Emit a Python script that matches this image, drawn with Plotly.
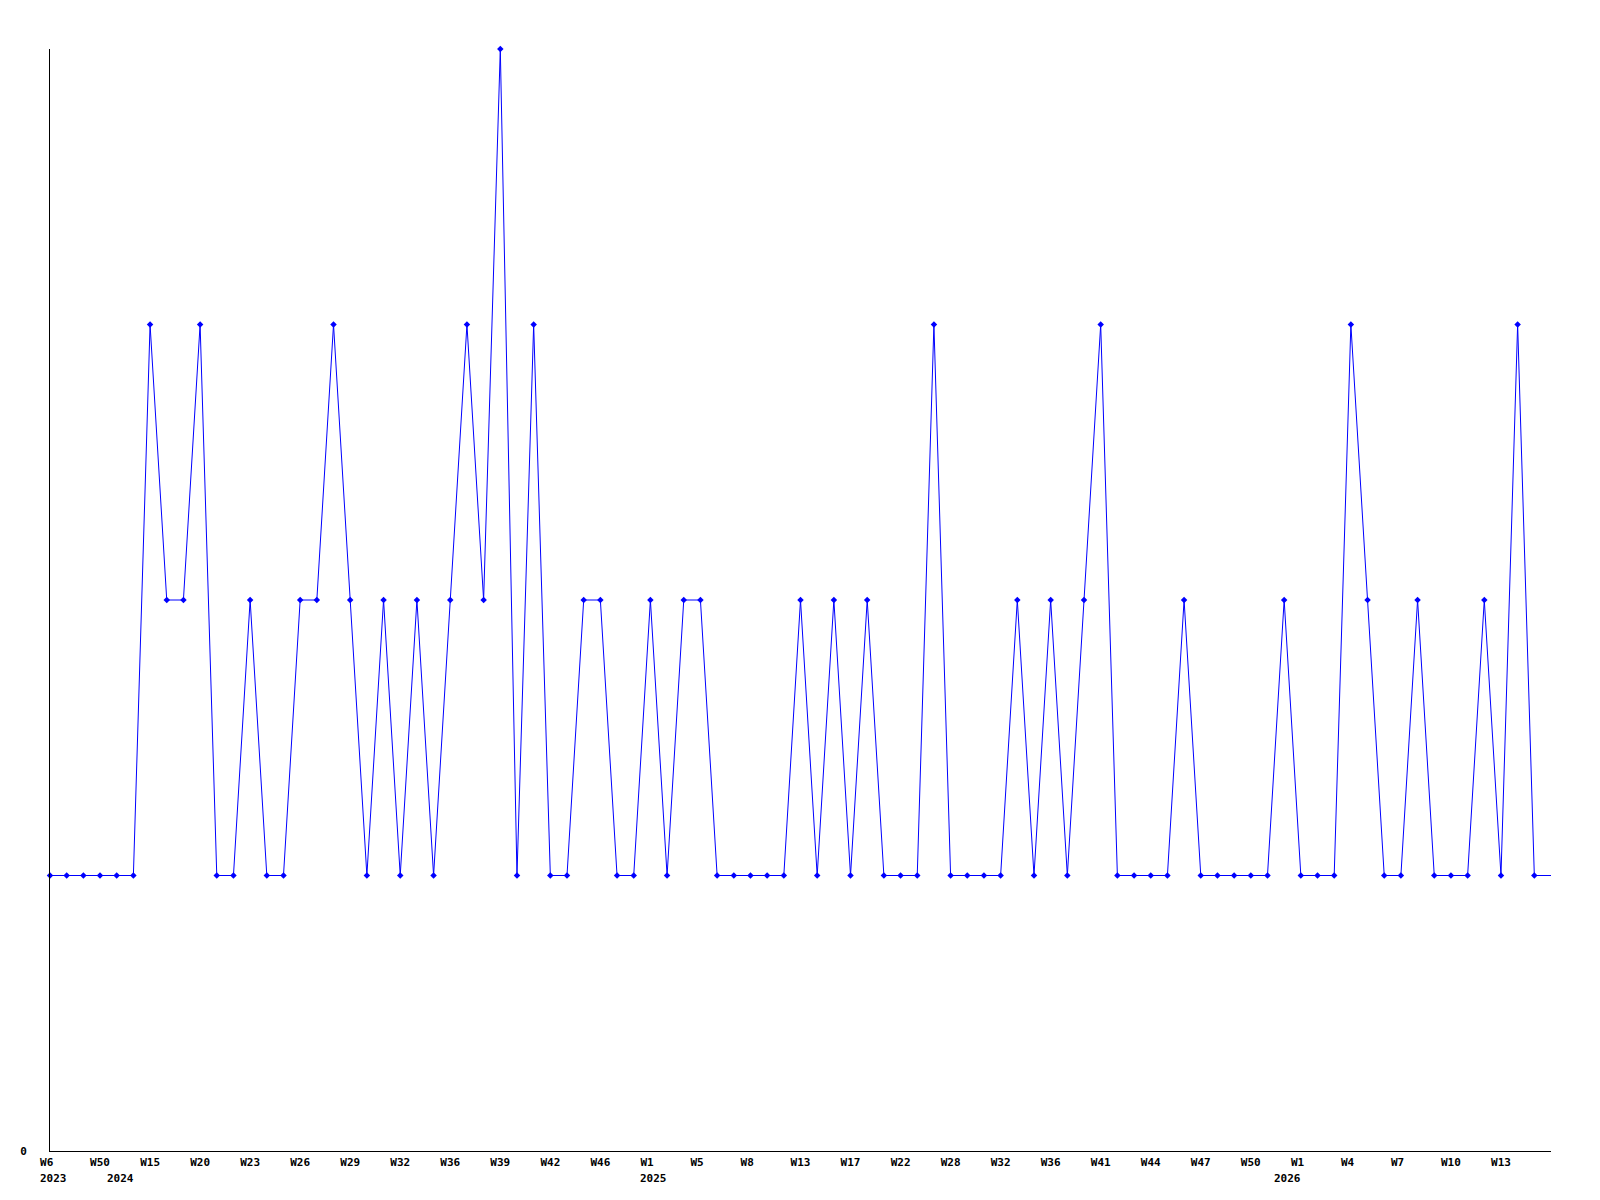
import plotly.graph_objects as go

# weekly counts, one per point (last entry is the trailing segment to the edge)
counts = [
    1, 1, 1, 1, 1, 1, 3, 2, 2, 3,
    1, 1, 2, 1, 1, 2, 2, 3, 2, 1,
    2, 1, 2, 1, 2, 3, 2, 4, 1, 3,
    1, 1, 2, 2, 1, 1, 2, 1, 2, 2,
    1, 1, 1, 1, 1, 2, 1, 2, 1, 2,
    1, 1, 1, 3, 1, 1, 1, 1, 2, 1,
    2, 1, 2, 3, 1, 1, 1, 1, 2, 1,
    1, 1, 1, 1, 2, 1, 1, 1, 3, 2,
    1, 1, 2, 1, 1, 1, 2, 1, 3, 1,
]
trailing = 1

tick_idx = [0, 3, 6, 9, 12, 15, 18, 21, 24, 27, 30, 33, 36, 39, 42,
            45, 48, 51, 54, 57, 60, 63, 66, 69, 72, 75, 78, 81, 84, 87]
tick_labels = ["W6", "W50", "W15", "W20", "W23", "W26", "W29", "W32", "W36",
               "W39", "W42", "W46", "W1", "W5", "W8", "W13", "W17", "W22",
               "W28", "W32", "W36", "W41", "W44", "W47", "W50", "W1", "W4",
               "W7", "W10", "W13"]

year_idx = [0, 4, 36, 74]
year_labels = ["2023", "2024", "2025", "2026"]

FONT = "DejaVu Sans Mono"
BLUE = "#0000ff"

x_all = list(range(len(counts) + 1))
y_all = counts + [trailing]

fig = go.Figure()

fig.add_trace(go.Scatter(
    x=x_all, y=y_all, mode="lines",
    line=dict(color=BLUE, width=1),
    hoverinfo="skip", cliponaxis=False
))
fig.add_trace(go.Scatter(
    x=list(range(len(counts))), y=counts, mode="markers",
    marker=dict(color=BLUE, size=5, symbol="diamond"),
    cliponaxis=False
))

# pad short labels so they start at the same offset as 3-char ones
padded = [t if len(t) >= 3 else t + "\u00a0" * (3 - len(t)) for t in tick_labels]

for i, yl in zip(year_idx, year_labels):
    fig.add_annotation(
        x=i, y=0, xref="x", yref="paper", text=f"<b>{yl}</b>",
        showarrow=False, xanchor="left", yanchor="top",
        xshift=-12, yshift=-19,
        font=dict(family=FONT, size=11, color="black")
    )

# page body adds an 8px offset, margins compensate for it
fig.update_layout(
    width=1600, height=1200,
    margin=dict(l=42, r=57, t=41, b=57),
    paper_bgcolor="white", plot_bgcolor="white",
    showlegend=False,
    font=dict(family=FONT, size=11, color="black"),
    xaxis=dict(
        range=[0, 90], showgrid=False, zeroline=False,
        showline=True, linecolor="black", linewidth=1,
        tickmode="array", tickvals=tick_idx,
        ticktext=[f"<b>{t}</b>" for t in padded],
        ticks="", ticklabelstandoff=1,
        tickfont=dict(family=FONT, size=11, color="black"),
    ),
    yaxis=dict(
        range=[0, 4], showgrid=False, zeroline=False,
        showline=True, linecolor="black", linewidth=1,
        tickmode="array", tickvals=[0], ticktext=["<b>0</b>"],
        ticks="", ticklabelstandoff=20,
        tickfont=dict(family=FONT, size=11, color="black"),
    ),
)

fig.write_html("out.html")
